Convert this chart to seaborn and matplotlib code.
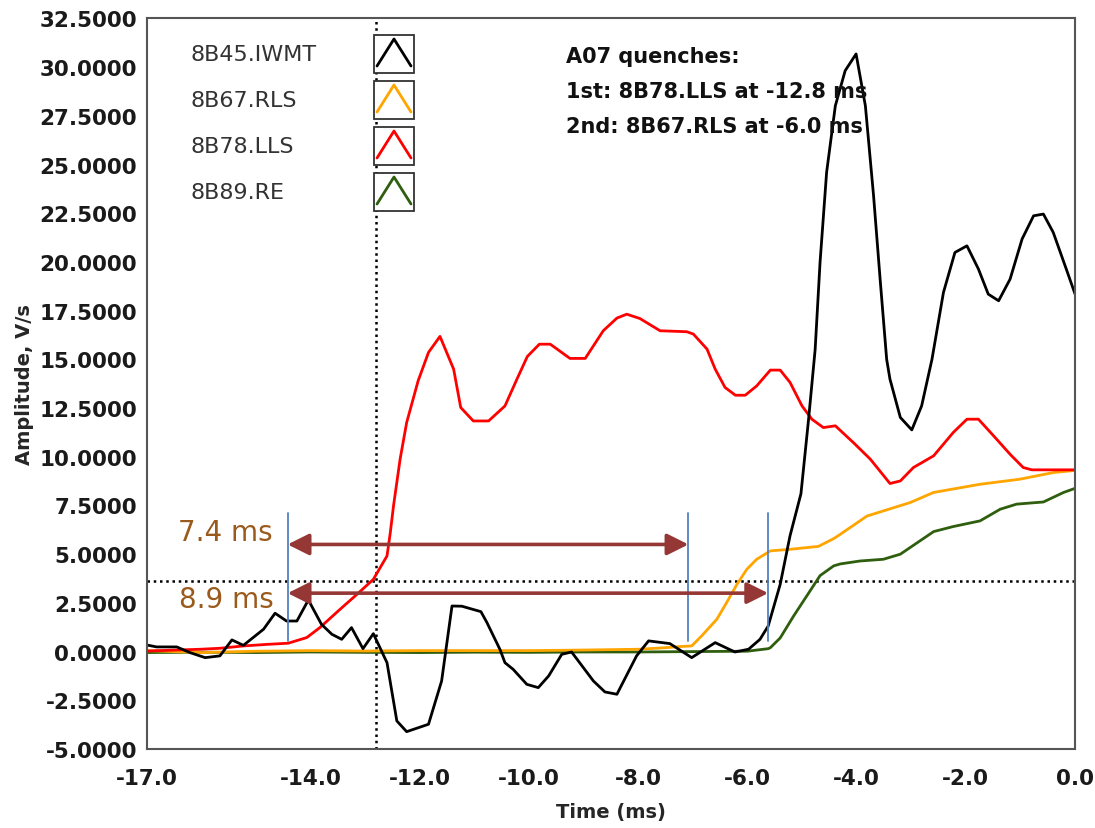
import pandas as pd
import seaborn as sns
import matplotlib
import matplotlib.pyplot as plt
from matplotlib.patches import Rectangle
from matplotlib.lines import Line2D

matplotlib.use('Agg')

# Datos
iwmt_t = [-17.0, -16.82, -16.45, -16.21, -15.93, -15.66, -15.44, -15.23, -14.86, -14.65,
          -14.44, -14.25, -14.04, -13.80, -13.61, -13.43, -13.25, -13.04, -12.85, -12.60,
          -12.42, -12.24, -11.84, -11.60, -11.41, -11.23, -10.88, -10.77, -10.53, -10.44,
          -10.29, -10.04, -9.83, -9.64, -9.40, -9.22, -8.82, -8.61, -8.39, -8.03,
          -7.81, -7.42, -7.02, -6.59, -6.23, -5.98, -5.77, -5.62, -5.40, -5.22,
          -5.02, -4.88, -4.76, -4.67, -4.55, -4.39, -4.21, -4.01, -3.84, -3.69,
          -3.57, -3.45, -3.39, -3.20, -2.99, -2.81, -2.62, -2.41, -2.20, -1.98,
          -1.77, -1.59, -1.40, -1.19, -0.97, -0.76, -0.58, -0.40, -0.15, 0.0]
iwmt_v = [0.34, 0.24, 0.24, -0.05, -0.31, -0.22, 0.60, 0.32, 1.15, 1.97,
          1.57, 1.57, 2.65, 1.40, 0.89, 0.63, 1.23, 0.15, 0.92, -0.57,
          -3.56, -4.11, -3.73, -1.51, 2.34, 2.33, 2.05, 1.49, 0.10, -0.57,
          -0.91, -1.68, -1.85, -1.25, -0.14, -0.02, -1.51, -2.07, -2.19, -0.22,
          0.55, 0.41, -0.31, 0.46, -0.02, 0.12, 0.63, 1.31, 3.45, 5.94,
          8.10, 11.93, 15.50, 19.98, 24.60, 28.02, 29.82, 30.68, 28.02, 23.40,
          19.12, 15.00, 13.99, 12.02, 11.38, 12.61, 15.01, 18.44, 20.49, 20.83,
          19.64, 18.35, 18.01, 19.12, 21.18, 22.37, 22.46, 21.52, 19.55, 18.35]

lls_t = [-17.0, -16.02, -15.66, -15.23, -14.80, -14.41, -14.07, -13.83, -13.46, -13.15,
         -12.85, -12.60, -12.54, -12.48, -12.36, -12.24, -12.03, -11.84, -11.63, -11.38,
         -11.25, -11.02, -10.74, -10.44, -10.22, -10.03, -9.81, -9.61, -9.25, -8.97,
         -8.64, -8.39, -8.21, -7.97, -7.60, -7.11, -6.99, -6.74, -6.59, -6.41,
         -6.22, -6.04, -5.83, -5.58, -5.40, -5.22, -5.00, -4.82, -4.61, -4.39,
         -4.06, -3.75, -3.39, -3.20, -2.96, -2.59, -2.23, -1.98, -1.77, -1.49,
         -1.19, -0.95, -0.79, 0.0]
lls_v = [0.03, 0.12, 0.17, 0.29, 0.37, 0.43, 0.72, 1.23, 2.17, 2.94,
         3.71, 4.91, 6.10, 7.50, 9.88, 11.76, 13.90, 15.36, 16.18, 14.50,
         12.53, 11.84, 11.84, 12.61, 13.99, 15.15, 15.78, 15.78, 15.05, 15.05,
         16.47, 17.12, 17.32, 17.10, 16.47, 16.42, 16.30, 15.53, 14.50, 13.56,
         13.16, 13.16, 13.64, 14.45, 14.45, 13.82, 12.61, 11.93, 11.50, 11.59,
         10.73, 9.88, 8.63, 8.76, 9.45, 10.05, 11.25, 11.93, 11.93, 11.07,
         10.13, 9.45, 9.33, 9.33]

rls_t = [-17.0, -16.5, -16.0, -15.0, -14.0, -13.0, -12.0, -11.0, -10.0, -9.0,
         -8.0, -7.5, -7.23, -7.02, -6.84, -6.56, -6.38, -6.19, -6.01, -5.83,
         -5.58, -5.22, -4.70, -4.42, -4.30, -3.81, -3.02, -2.59, -1.74, -1.01,
         -0.40, 0.0]
rls_v = [0.05, 0.0, -0.05, 0.02, 0.05, 0.03, 0.05, 0.05, 0.05, 0.08,
         0.12, 0.20, 0.26, 0.29, 0.80, 1.66, 2.52, 3.46, 4.23, 4.74,
         5.17, 5.25, 5.40, 5.80, 6.02, 6.96, 7.65, 8.17, 8.59, 8.85,
         9.19, 9.30]

re_t = [-17.0, -16.0, -15.0, -14.0, -13.0, -12.0, -11.0, -10.0, -9.0, -8.0,
        -7.0, -6.0, -5.62, -5.58, -5.40, -5.16, -4.95, -4.67, -4.42, -4.30,
        -3.94, -3.51, -3.20, -2.59, -2.23, -1.74, -1.37, -1.07, -0.58, -0.21, 0.0]
re_v = [-0.05, -0.03, -0.05, -0.02, -0.04, -0.05, -0.03, -0.04, -0.02, -0.02,
        0.0, 0.02, 0.15, 0.20, 0.70, 1.80, 2.70, 3.90, 4.40, 4.50,
        4.65, 4.74, 5.00, 6.16, 6.42, 6.71, 7.31, 7.57, 7.68, 8.17, 8.38]

nombres = ["8B45.IWMT", "8B67.RLS", "8B78.LLS", "8B89.RE"]
colores = {"8B45.IWMT": "#000000", "8B67.RLS": "#FFA500",
           "8B78.LLS": "#FF0000", "8B89.RE": "#2E5E0E"}

y_ticks = [-5.0, -2.5, 0.0, 2.5, 5.0, 7.5, 10.0, 12.5, 15.0, 17.5, 20.0, 22.5, 25.0, 27.5, 30.0, 32.5]
x_ticks = [-17.0, -16.0, -14.0, -12.0, -10.0, -8.0, -6.0, -4.0, -2.0, 0.0]
x_labels = ["-17.0", "", "-14.0", "-12.0", "-10.0", "-8.0", "-6.0", "-4.0", "-2.0", "0.0"]

t_quench = -12.8
umbral = 3.6
marcas = [-14.42, -7.08, -5.62]
flecha_sup = (-14.42, -7.08, 5.5)
flecha_inf = (-14.42, -5.62, 3.0)

df = pd.concat([
    pd.DataFrame({"t": iwmt_t, "v": iwmt_v, "canal": "8B45.IWMT"}),
    pd.DataFrame({"t": rls_t, "v": rls_v, "canal": "8B67.RLS"}),
    pd.DataFrame({"t": lls_t, "v": lls_v, "canal": "8B78.LLS"}),
    pd.DataFrame({"t": re_t, "v": re_v, "canal": "8B89.RE"}),
])

sns.set_style("white")
plt.rcParams['font.family'] = ['DejaVu Sans']

fig = plt.figure(figsize=(10.95, 8.29), dpi=100)
ax = fig.add_axes([0.134, 0.0953, 0.8478, 0.8812])

sns.lineplot(data=df, x="t", y="v", hue="canal",
             hue_order=["8B89.RE", "8B67.RLS", "8B78.LLS", "8B45.IWMT"],
             palette=colores, estimator=None, sort=False, linewidth=2.0,
             legend=False, ax=ax)

ax.axvline(t_quench, color="black", linestyle=(0, (1, 1.5)), linewidth=1.8, zorder=1)
ax.axhline(umbral, color="black", linestyle=(0, (1, 1.5)), linewidth=1.8, zorder=1)

for xm in marcas:
    ax.plot([xm, xm], [0.55, 7.1], color="#4F81BD", linewidth=1.3, zorder=5)

for x0, x1, yy in [flecha_sup, flecha_inf]:
    ax.annotate("", xy=(x1, yy), xytext=(x0, yy),
                arrowprops=dict(arrowstyle="<|-|>,head_length=1.0,head_width=0.5",
                                color="#953735", lw=2.6, shrinkA=0, shrinkB=0,
                                mutation_scale=13), zorder=6)

ax.text(-15.57, 6.15, "7.4 ms", color="#9A5A1C", fontsize=20, ha="center", va="center")
ax.text(-15.55, 2.68, "8.9 ms", color="#9A5A1C", fontsize=20, ha="center", va="center")

ax.set_xlim(-17, 0)
ax.set_ylim(-5, 32.5)
ax.set_xticks(x_ticks)
ax.set_xticklabels(x_labels)
ax.set_yticks(y_ticks)
ax.set_yticklabels([f"{v:.4f}" for v in y_ticks])
ax.tick_params(axis="y", direction="out", length=5, width=1.2, color="#444444", pad=2)
ax.tick_params(axis="x", direction="out", length=8, width=1.2, color="#444444", pad=6)
for lab in ax.get_xticklabels() + ax.get_yticklabels():
    lab.set_fontsize(15.5)
    lab.set_fontweight("bold")
    lab.set_color("#1a1a1a")
ax.set_xlabel("Time (ms)", fontsize=14, fontweight="bold", labelpad=10)
ax.set_ylabel("Amplitude, V/s", fontsize=14, fontweight="bold", labelpad=4)
for s in ax.spines.values():
    s.set_color("#555555")
    s.set_linewidth(1.5)

# Leyenda estilo instrumento
W, H = 1095.0, 829.0
def pf(x, y):
    return (x / W, 1 - y / H)

for i, nombre in enumerate(nombres):
    yc = 55 + i * 46
    fig.text(*pf(190, yc), nombre, fontsize=16, color="#333333", va="center", ha="left")
    bx, by = pf(374, yc + 19)
    fig.add_artist(Rectangle((bx, by), 40 / W, 38 / H, transform=fig.transFigure,
                             facecolor="white", edgecolor="#333333", linewidth=1.3))
    xs = [377, 394, 411]
    ys = [yc + 12, yc - 15, yc + 12]
    fig.add_artist(Line2D([x / W for x in xs], [1 - y / H for y in ys],
                          transform=fig.transFigure, color=colores[nombre], linewidth=2))

notas = ["A07 quenches:", "1st: 8B78.LLS at -12.8 ms", "2nd: 8B67.RLS at -6.0 ms"]
for i, txt in enumerate(notas):
    fig.text(*pf(566, 57 + i * 35), txt, fontsize=15, fontweight="bold",
             color="#111111", va="center", ha="left")

fig.savefig("out.png", dpi=100)
plt.close()
